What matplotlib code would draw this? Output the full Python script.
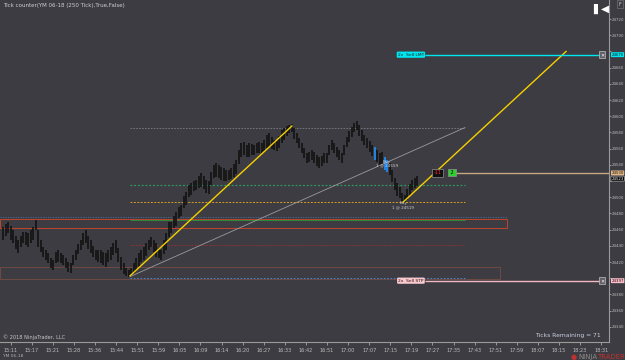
import numpy as np
import matplotlib.pyplot as plt
import matplotlib.transforms as mtrans
from matplotlib.patches import Rectangle

# 250-tick bars, YM 06-18
highs = [24463, 24467, 24469, 24464, 24460, 24452, 24447, 24452, 24457, 24457,
         24456, 24460, 24463, 24472, 24460, 24447, 24439, 24435, 24431, 24425,
         24422, 24432, 24435, 24431, 24429, 24425, 24420, 24419, 24429, 24435,
         24442, 24447, 24456, 24460, 24452, 24447, 24440, 24435, 24435, 24435,
         24432, 24431, 24435, 24439, 24443, 24447, 24437, 24426, 24419, 24413,
         24410, 24413, 24419, 24425, 24431, 24435, 24439, 24443, 24447, 24451,
         24447, 24443, 24437, 24435, 24447, 24456, 24469, 24469, 24477, 24482,
         24488, 24490, 24501, 24506, 24515, 24518, 24520, 24521, 24526, 24530,
         24526, 24521, 24520, 24531, 24540, 24542, 24540, 24537, 24536, 24534,
         24534, 24536, 24541, 24546, 24558, 24567, 24568, 24564, 24567, 24566,
         24564, 24567, 24568, 24567, 24571, 24577, 24579, 24574, 24571, 24569,
         24576, 24583, 24585, 24588, 24589, 24590, 24585, 24579, 24573, 24567,
         24561, 24555, 24556, 24558, 24556, 24552, 24550, 24551, 24555, 24555,
         24564, 24571, 24567, 24562, 24558, 24555, 24564, 24574, 24582, 24587,
         24592, 24594, 24589, 24583, 24577, 24573, 24569, 24564, 24562, 24558,
         24555, 24556, 24550, 24546, 24542, 24534, 24524, 24518, 24513, 24505,
         24503, 24510, 24516, 24521, 24524, 24526]
lows = [24447, 24452, 24456, 24447, 24443, 24436, 24431, 24439, 24443, 24441,
        24439, 24443, 24447, 24460, 24439, 24432, 24426, 24422, 24419, 24413,
        24410, 24419, 24420, 24419, 24416, 24413, 24408, 24406, 24416, 24422,
        24430, 24435, 24441, 24443, 24436, 24431, 24426, 24422, 24420, 24419,
        24416, 24414, 24420, 24422, 24429, 24431, 24420, 24410, 24405, 24403,
        24402, 24403, 24406, 24410, 24414, 24420, 24422, 24427, 24435, 24439,
        24432, 24426, 24425, 24422, 24430, 24435, 24451, 24456, 24462, 24464,
        24474, 24477, 24487, 24490, 24500, 24503, 24508, 24509, 24511, 24513,
        24510, 24505, 24504, 24515, 24524, 24525, 24524, 24521, 24520, 24520,
        24521, 24522, 24525, 24529, 24541, 24550, 24552, 24550, 24550, 24552,
        24552, 24555, 24555, 24555, 24557, 24561, 24562, 24560, 24558, 24557,
        24561, 24567, 24571, 24576, 24579, 24581, 24572, 24567, 24561, 24555,
        24548, 24542, 24543, 24546, 24542, 24539, 24536, 24539, 24542, 24542,
        24552, 24558, 24555, 24550, 24546, 24542, 24552, 24562, 24568, 24574,
        24581, 24583, 24576, 24569, 24564, 24561, 24556, 24551, 24546, 24543,
        24537, 24541, 24534, 24531, 24527, 24519, 24509, 24501, 24499, 24494,
        24493, 24497, 24503, 24509, 24511, 24514]
blue_bars = [148, 152, 153]

time_labels = ['15:11', '15:17', '15:21', '15:28', '15:36', '15:44', '15:51', '15:59',
               '16:05', '16:09', '16:14', '16:20', '16:27', '16:33', '16:42', '16:51',
               '17:00', '17:07', '17:15', '17:19', '17:27', '17:35', '17:43', '17:51',
               '17:59', '18:07', '18:15', '18:23', '18:31']
price_ticks = list(range(24340, 24721, 20))

# drawing objects (prices)
range_high = 24586
green_level = 24515
entry_level = 24494
red_level = 24441
zone_top, zone_bot, zone_green, zone_blue = 24473, 24462, 24472, 24476
low_zone_top, low_zone_bot, low_blue = 24414, 24399, 24400
trend_a = ([50.6, 115.1], [24403, 24588])
trend_b = ([50.6, 184.0], [24402, 24586])
trend_c = ([159.4, 224.3], [24494, 24680])
target_px, stop_px, pos_px, last_px = 24676, 24397, 24530, 24523
fills = [(153, 24544, '24559'), (159.4, 24493, '24519')]

bg = '#3c3c42'
fig = plt.figure(figsize=(6.25, 3.6), dpi=100, facecolor=bg)
ax = fig.add_axes([0, 18 / 360, 609 / 625, 342 / 360], facecolor=bg)
ax.set_xlim(-1.2, 241.4)
ax.set_ylim(24321.3, 24743.5)
for s in ['top', 'left']:
    ax.spines[s].set_visible(False)
for s in ['right', 'bottom']:
    ax.spines[s].set_color('#9a9a9a')
    ax.spines[s].set_linewidth(0.8)

# levels and zones
ax.add_patch(Rectangle((-1.2, zone_bot), 202, zone_top - zone_bot, fill=False,
                       ec='#c0452a', lw=0.7, zorder=1))
ax.add_patch(Rectangle((-1.2, low_zone_bot), 199.2, low_zone_top - low_zone_bot, fill=False,
                       ec='#6e4a44', lw=0.7, zorder=1))
ax.hlines(zone_blue, -1.2, 200.8, color='#4a6fa0', lw=0.6, ls=(0, (1.5, 1.5)), zorder=1)
ax.hlines(range_high, 50.6, 184, color='#7c7c86', lw=0.6, ls=(0, (2, 1.5)), zorder=1)
ax.hlines(green_level, 50.6, 184, color='#2e9b5f', lw=0.9, ls=(0, (1.5, 1.5)), zorder=1)
ax.hlines(entry_level, 50.6, 184, color='#d8a020', lw=0.7, ls=(0, (2, 1.5)), zorder=1)
ax.hlines(zone_green, 50.6, 184, color='#2e8b3a', lw=0.7, zorder=1)
ax.hlines(red_level, 50.6, 184, color='#9a3030', lw=0.6, ls=(0, (2, 1.5)), zorder=1)
ax.hlines(low_blue, 50.6, 184, color='#4a80c0', lw=0.8, ls=(0, (1.5, 1.5)), zorder=1)

# bars
idx = np.arange(len(highs))
cols = ['#1e90ff' if i in blue_bars else '#121212' for i in idx]
ax.vlines(idx, lows, highs, colors=cols, lw=1.2, zorder=3)

# trend lines
ax.plot(*trend_b, color='#9a9aa0', lw=0.6, zorder=4)
ax.plot(*trend_a, color='#f5d000', lw=1.0, zorder=4)
ax.plot(*trend_c, color='#f5d000', lw=1.0, zorder=4)

# orders
ax.hlines(target_px, 168, 237.8, color='#00e5ee', lw=1.0, zorder=5)
ax.hlines(stop_px, 168, 237.8, color='#f4b8c0', lw=1.0, zorder=5)
ax.hlines(pos_px, 180, 241.4, color='#c8a882', lw=1.0, zorder=5)
ax.text(162.5, target_px, '2x  Sell LMT', fontsize=3.2, color='#102020', va='center', ha='center',
        bbox=dict(boxstyle='round,pad=0.25', fc='#00e5ee', ec='none'), zorder=6)
ax.text(162.5, stop_px, '2x  Sell STP', fontsize=3.2, color='#301010', va='center', ha='center',
        bbox=dict(boxstyle='round,pad=0.25', fc='#f8c8cf', ec='none'), zorder=6)
for p in [target_px, stop_px]:
    ax.text(238.6, p, '\u2715', fontsize=3.5, color='white', va='center', ha='center',
            bbox=dict(boxstyle='square,pad=0.2', fc='#606066', ec='#c0c0c0', lw=0.5), zorder=6)
ax.text(173, pos_px, '-11', fontsize=3.5, color='#ff3030', va='center', ha='center',
        bbox=dict(boxstyle='square,pad=0.3', fc='#101010', ec='#909090', lw=0.5), zorder=6)
ax.text(179, pos_px, ' 2 ', fontsize=3.5, color='black', va='center', ha='center',
        bbox=dict(boxstyle='square,pad=0.2', fc='#30d030', ec='#909090', lw=0.5), zorder=6)

for x, p, lab in fills:
    ax.text(x, p, 'Buy', fontsize=3, color='#d0d0d0', ha='center', va='center', zorder=6)
    ax.text(x, p - 5, '1 @ ' + lab, fontsize=3, color='#d0d0d0', ha='center', va='center', zorder=6)

# axes ticks (labels hidden where a price marker sits on top of them)
markers = [target_px, pos_px, last_px, stop_px]
ax.set_yticks(price_ticks)
ax.set_yticklabels(['' if min(abs(t - m) for m in markers) < 10 else str(t) for t in price_ticks])
ax.yaxis.tick_right()
ax.tick_params(axis='y', colors='#bdbdbd', labelsize=2.8, length=1.5, width=0.5, pad=0.5)
ax.set_xticks(np.arange(len(time_labels)) * 8.4 + 3.07)
ax.set_xticklabels(time_labels)
ax.tick_params(axis='x', colors='#bdbdbd', labelsize=3.6, length=2, width=0.5, pad=2)

# price markers on the right axis
trans = mtrans.blended_transform_factory(ax.transAxes, ax.transData)
for p, fc, tc in [(target_px, '#00e5ee', '#002020'), (pos_px, '#e0b888', '#201000'),
                  (last_px, '#000000', '#ffffff'), (stop_px, '#f8c0c8', '#300010')]:
    ax.text(1.004, p, str(p), transform=trans, fontsize=2.8, color=tc, va='center', ha='left',
            bbox=dict(boxstyle='round,pad=0.12', fc=fc, ec='#d0d0d0' if fc == '#000000' else 'none', lw=0.4),
            clip_on=False, zorder=7)

# texts
fig.text(3 / 625, 1 - 5 / 360, 'Tick counter(YM 06-18 (250 Tick),True,False)', fontsize=4,
         color='#d0d0d0', va='center', ha='left')
fig.text(3 / 625, 1 - 337 / 360, '\u00a9 2018 NinjaTrader, LLC', fontsize=3.6, color='#c8c8c8',
         va='center', ha='left')
fig.text(3 / 625, 1 - 356 / 360, 'YM 06-18', fontsize=3.2, color='#b0b0b0', va='center', ha='left')
fig.text(601 / 625, 1 - 335 / 360, 'Ticks Remaining = 71', fontsize=4.3, color='#c8d0e0',
         va='center', ha='right')
fig.text(601 / 625, 1 - 9 / 360, '\u258c\u25c0', fontsize=7.5, color='white', va='center', ha='center',
         fontweight='bold')
fig.text(620 / 625, 1 - 4 / 360, 'F', fontsize=3.6, color='#d0d0d0', va='center', ha='center',
         bbox=dict(boxstyle='square,pad=0.3', fc=bg, ec='#808080', lw=0.4))
fig.text(578 / 625, 1 - 357 / 360, 'NINJA', fontsize=5, color='#8a8a8a', va='center', ha='left')
fig.text(597 / 625, 1 - 357 / 360, 'TRADER', fontsize=5, color='#c03030', va='center', ha='left')
fig.text(571 / 625, 1 - 357 / 360, '\u25cf', fontsize=5, color='#c03030', va='center', ha='left')

fig.savefig('out.png', dpi=100, facecolor=bg)
